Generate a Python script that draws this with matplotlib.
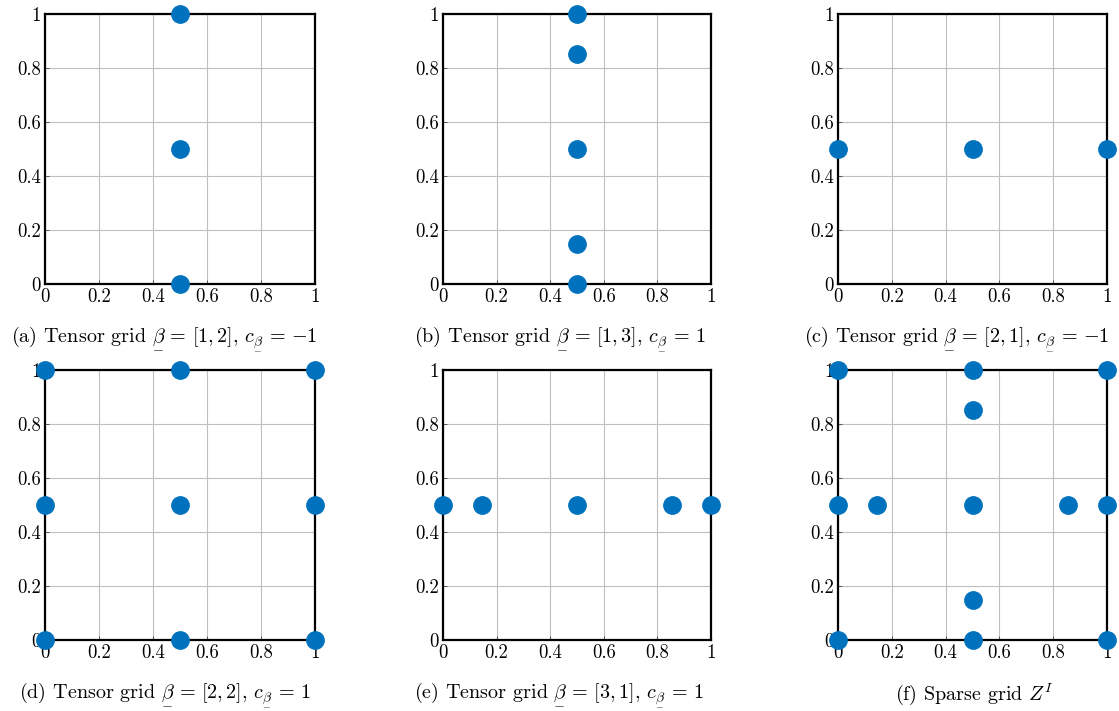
import matplotlib
matplotlib.use('Agg')
import matplotlib.pyplot as plt

plt.rcParams['font.family'] = ['cmr10', 'DejaVu Serif']
plt.rcParams['mathtext.fontset'] = 'cm'
plt.rcParams['axes.formatter.use_mathtext'] = True

# Clenshaw-Curtis nodes per level
lv1 = [0.5]
lv2 = [0.0, 0.5, 1.0]
lv3 = [0.0, 0.1464, 0.5, 0.8536, 1.0]

B = r'\underset{-}{\beta}'
EQ = r'\,=\,'
captions = [
    r'(a) Tensor grid $' + B + EQ + r'[1, 2]$, $c_{' + B + r'}' + EQ + r'{-1}$',
    r'(b) Tensor grid $' + B + EQ + r'[1, 3]$, $c_{' + B + r'}' + EQ + r'1$',
    r'(c) Tensor grid $' + B + EQ + r'[2, 1]$, $c_{' + B + r'}' + EQ + r'{-1}$',
    r'(d) Tensor grid $' + B + EQ + r'[2, 2]$, $c_{' + B + r'}' + EQ + r'1$',
    r'(e) Tensor grid $' + B + EQ + r'[3, 1]$, $c_{' + B + r'}' + EQ + r'1$',
    r'(f) Sparse grid $Z^I$',
]

def tensor(xs, ys):
    return [x for x in xs for y in ys], [y for x in xs for y in ys]

grids = [
    tensor(lv1, lv2),
    tensor(lv1, lv3),
    tensor(lv2, lv1),
    tensor(lv2, lv2),
    tensor(lv3, lv1),
]
# sparse grid = union of the tensor grids above
sx, sy = [], []
for gx, gy in grids:
    for x, y in zip(gx, gy):
        if (x, y) not in zip(sx, sy):
            sx.append(x)
            sy.append(y)
grids.append((sx, sy))

W, H = 1119, 711
fig = plt.figure(figsize=(W / 100, H / 100), dpi=100)
lefts = [45, 443, 838]
rights = [315, 711, 1107]
tops = [14, 370]
bottoms = [284, 640]
cap_x = [164, 560, 957, 165, 559, 974]
cap_y = [338, 694]
blue = '#0072BD'
ticks = [0, 0.2, 0.4, 0.6, 0.8, 1]
tick_labels = ['0', '0.2', '0.4', '0.6', '0.8', '1']

for i in range(6):
    r, c = divmod(i, 3)
    ax = fig.add_axes([lefts[c] / W, 1 - bottoms[r] / H,
                       (rights[c] - lefts[c]) / W, (bottoms[r] - tops[r]) / H])
    gx, gy = grids[i]
    ax.plot(gx, gy, 'o', color=blue, markersize=12.5, clip_on=False, zorder=5)
    ax.set_xlim(0, 1)
    ax.set_ylim(0, 1)
    ax.set_xticks(ticks)
    ax.set_yticks(ticks)
    ax.set_xticklabels(tick_labels)
    ax.set_yticklabels(tick_labels)
    ax.grid(True, color='#bfbfbf', linewidth=0.8)
    ax.tick_params(direction='in', length=3, width=0.6, labelsize=13.5, pad=3, color='#444444')
    for s in ax.spines.values():
        s.set_linewidth(1.6)
    ax.text(cap_x[i] / W, 1 - cap_y[r] / H, captions[i], transform=fig.transFigure,
            ha='center', va='center', fontsize=14.5)

fig.savefig('out.png', dpi=100)
